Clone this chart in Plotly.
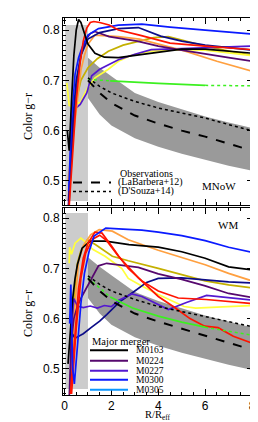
import plotly.graph_objects as go

# ---------------- data ----------------
# observational bands / fits (x in R/Reff)
obs_x = [1, 1.5, 2, 3, 4, 5, 6, 7, 8]
labarbera_top = [0.700, 0.675, 0.655, 0.630, 0.614, 0.600, 0.588, 0.574, 0.560]
dsouza_top = [0.705, 0.688, 0.675, 0.658, 0.645, 0.635, 0.625, 0.612, 0.600]
band_hi_top = [0.745, 0.725, 0.708, 0.675, 0.657, 0.642, 0.628, 0.616, 0.605]
band_lo_top = [0.665, 0.632, 0.610, 0.585, 0.568, 0.554, 0.542, 0.530, 0.520]

labarbera_bot = [0.680, 0.655, 0.635, 0.610, 0.594, 0.580, 0.567, 0.553, 0.538]
dsouza_bot = [0.685, 0.668, 0.655, 0.638, 0.624, 0.614, 0.604, 0.593, 0.584]
band_hi_bot = [0.722, 0.703, 0.686, 0.653, 0.635, 0.620, 0.606, 0.594, 0.582]
band_lo_bot = [0.641, 0.610, 0.588, 0.563, 0.546, 0.532, 0.520, 0.508, 0.498]

# inner (R < Reff) shaded region
inner_x = [0.03, 1.0]
inner_y = [0.46, 0.81]

# ---- MNoW panel (top) ----
top_black_x = [0.12, 0.2, 0.3, 0.4, 0.5, 0.6, 0.7, 0.85, 1.0, 1.3, 1.7, 2.3, 3.1, 4.0, 5.0, 6.0, 7.0, 8.0]
top_black_y = [0.60, 0.56, 0.66, 0.75, 0.80, 0.821, 0.815, 0.795, 0.772, 0.754, 0.746, 0.745, 0.750, 0.757, 0.762, 0.762, 0.758, 0.754]
top_red_x = [0.2, 0.35, 0.5, 0.65, 0.8, 0.95, 1.1, 1.25, 1.5, 1.9, 2.3, 3.2, 4.5, 6.0, 8.0]
top_red_y = [0.45, 0.55, 0.66, 0.73, 0.778, 0.804, 0.815, 0.817, 0.815, 0.810, 0.800, 0.790, 0.774, 0.768, 0.761]
top_blue_x = [0.18, 0.3, 0.45, 0.6, 0.75, 1.0, 1.45, 2.3, 3.3, 4.5, 6.0, 8.0]
top_blue_y = [0.48, 0.62, 0.712, 0.745, 0.765, 0.790, 0.803, 0.810, 0.812, 0.806, 0.800, 0.792]
top_navy_x = [0.2, 0.35, 0.5, 0.7, 1.0, 1.5, 2.3, 3.15, 4.1, 5.0, 6.0, 8.0]
top_navy_y = [0.46, 0.62, 0.70, 0.75, 0.782, 0.795, 0.803, 0.805, 0.788, 0.778, 0.770, 0.760]
top_orange_x = [0.15, 0.3, 0.5, 0.7, 0.85, 1.0, 1.3, 1.6, 2.3, 3.2, 4.0, 5.15, 6.5, 8.0]
top_orange_y = [0.50, 0.56, 0.64, 0.72, 0.75, 0.772, 0.790, 0.789, 0.787, 0.782, 0.772, 0.758, 0.738, 0.718]
top_purple_x = [0.15, 0.25, 0.4, 0.55, 0.7, 0.9, 1.1, 1.3, 1.9, 3.1, 4.0, 5.0, 6.0, 7.0, 8.0]
top_purple_y = [0.44, 0.52, 0.62, 0.70, 0.75, 0.78, 0.793, 0.797, 0.787, 0.778, 0.768, 0.760, 0.752, 0.745, 0.738]
top_violet_x = [0.17, 0.25, 0.31, 0.45, 0.67, 0.95, 1.16, 1.5, 1.87, 2.3, 3.0, 3.7, 5.0, 6.0, 8.0]
top_violet_y = [0.46, 0.56, 0.612, 0.643, 0.652, 0.675, 0.709, 0.722, 0.731, 0.741, 0.752, 0.761, 0.763, 0.765, 0.768]
top_yellow_x = [0.1, 0.15, 0.2, 0.31, 0.5, 0.67, 0.95, 1.3, 1.87, 2.3, 2.85, 3.7, 5.0, 6.0, 7.0, 8.0]
top_yellow_y = [0.695, 0.67, 0.65, 0.648, 0.655, 0.655, 0.682, 0.705, 0.722, 0.738, 0.750, 0.758, 0.761, 0.760, 0.755, 0.749]
top_olive_x = [0.25, 0.45, 0.7, 1.0, 1.4, 1.87, 2.5, 3.15, 3.8, 4.43, 5.2, 6.0, 7.0, 8.0]
top_olive_y = [0.50, 0.65, 0.70, 0.725, 0.743, 0.758, 0.770, 0.778, 0.785, 0.787, 0.777, 0.768, 0.758, 0.750]
top_green_x = [1.0, 1.5, 1.95, 3.0, 4.0, 5.0, 6.0, 7.0, 8.0]
top_green_y = [0.702, 0.700, 0.699, 0.696, 0.694, 0.692, 0.690, 0.689, 0.689]

# ---- WM panel (bottom) ----
bot_black_x = [0.15, 0.25, 0.35, 0.45, 0.55, 0.75, 1.1, 1.75, 2.75, 4.0, 5.0, 6.0, 7.0, 8.0]
bot_black_y = [0.51, 0.58, 0.64, 0.68, 0.707, 0.740, 0.754, 0.754, 0.747, 0.742, 0.733, 0.720, 0.703, 0.697]
bot_purple_x = [0.2, 0.28, 0.4, 0.55, 0.74, 1.16, 1.45, 1.8, 2.58, 3.15, 4.0, 5.0, 6.0, 7.0, 8.0]
bot_purple_y = [0.44, 0.55, 0.60, 0.625, 0.644, 0.681, 0.705, 0.710, 0.706, 0.702, 0.689, 0.678, 0.665, 0.650, 0.642]
bot_violet_x = [0.25, 0.3, 0.4, 0.55, 0.8, 1.1, 1.4, 1.7, 2.0, 2.3, 2.87, 3.3, 4.43, 5.2, 6.06, 7.0, 8.0]
bot_violet_y = [0.45, 0.58, 0.64, 0.625, 0.622, 0.625, 0.621, 0.626, 0.624, 0.636, 0.649, 0.644, 0.618, 0.632, 0.646, 0.642, 0.637]
bot_blue_x = [0.22, 0.27, 0.3, 0.35, 0.42, 0.55, 0.7, 0.85, 1.05, 1.26, 1.76, 2.5, 3.3, 4.0, 5.0, 6.0, 7.0, 8.0]
bot_blue_y = [0.59, 0.668, 0.60, 0.50, 0.47, 0.55, 0.63, 0.69, 0.734, 0.764, 0.780, 0.778, 0.776, 0.772, 0.765, 0.755, 0.742, 0.732]
bot_navy_x = [0.3, 0.33, 0.45, 0.8, 1.16, 1.5, 1.8, 2.37, 3.0, 3.5, 4.0, 5.0, 6.0, 7.0, 8.0]
bot_navy_y = [0.64, 0.57, 0.561, 0.570, 0.583, 0.595, 0.608, 0.634, 0.655, 0.672, 0.680, 0.681, 0.677, 0.673, 0.671]
bot_orange_x = [0.25, 0.4, 0.6, 0.8, 1.12, 1.48, 2.04, 2.72, 4.0, 5.0, 6.0, 7.0, 8.0]
bot_orange_y = [0.45, 0.60, 0.714, 0.745, 0.767, 0.777, 0.774, 0.757, 0.736, 0.722, 0.707, 0.690, 0.675]
bot_olive_x = [0.3, 0.41, 0.55, 0.69, 0.98, 1.33, 2.04, 2.72, 4.0, 5.0, 6.0, 7.0, 8.0]
bot_olive_y = [0.50, 0.648, 0.71, 0.734, 0.757, 0.747, 0.724, 0.715, 0.700, 0.688, 0.675, 0.667, 0.661]
bot_yellow_x = [0.2, 0.22, 0.3, 0.45, 0.7, 0.9, 1.2, 1.73, 2.44, 2.72, 3.3, 4.0, 5.1, 5.6, 6.5, 8.0]
bot_yellow_y = [0.71, 0.742, 0.728, 0.750, 0.760, 0.752, 0.738, 0.724, 0.700, 0.680, 0.665, 0.648, 0.624, 0.621, 0.623, 0.626]
bot_red1_x = [0.25, 0.45, 0.6, 0.8, 1.0, 1.3, 1.6, 2.0, 2.3, 2.72, 3.3, 4.0, 4.85, 6.04, 7.0, 8.0]
bot_red1_y = [0.45, 0.58, 0.66, 0.72, 0.75, 0.772, 0.770, 0.745, 0.725, 0.700, 0.675, 0.655, 0.641, 0.638, 0.634, 0.630]
bot_red2_x = [0.3, 0.5, 0.7, 0.9, 1.2, 1.5, 1.8, 2.3, 3.15, 4.0, 4.7, 5.35, 5.98, 6.55, 7.2, 8.0]
bot_red2_y = [0.45, 0.58, 0.68, 0.73, 0.758, 0.766, 0.755, 0.724, 0.681, 0.644, 0.622, 0.600, 0.585, 0.582, 0.565, 0.551]
bot_green_x = [1.0, 1.5, 1.95, 2.9, 4.0, 5.0, 6.0, 7.0, 8.0]
bot_green_y = [0.681, 0.660, 0.643, 0.621, 0.605, 0.593, 0.583, 0.575, 0.567]

merger_names = ["M0163", "M0224", "M0227", "M0300", "M0305"]
green_solid = (1.95, 6.0)

# ---------------- styling ----------------
C = dict(black="#000000", red="#ff1400", blue="#0a1aff", navy="#0c0c88",
         orange="#ffa040", purple="#56086e", violet="#5418d0",
         yellow="#ffff3c", olive="#c4b000", green="#3cf020", lblue="#0a96ff")
merger_colors = [C["black"], C["purple"], C["violet"], C["blue"], C["lblue"]]
LW = 1.7
SERIF = "Liberation Serif"
SANS = "Liberation Sans"

fig = go.Figure()


def add_line(x, y, color, ax, dash="solid", width=LW):
    xa, ya = ("x", "y") if ax == 1 else ("x2", "y2")
    fig.add_trace(go.Scatter(x=x, y=y, mode="lines", xaxis=xa, yaxis=ya,
                             line=dict(color=color, width=width, dash=dash),
                             showlegend=False, hoverinfo="skip"))


def add_panel(ax, band_hi, band_lo, lab, dsz, curves, gx, gy):
    xa, ya = ("x", "y") if ax == 1 else ("x2", "y2")
    # inner light grey region
    fig.add_trace(go.Scatter(
        x=[inner_x[0], inner_x[1], inner_x[1], inner_x[0], inner_x[0]],
        y=[inner_y[0], inner_y[0], inner_y[1], inner_y[1], inner_y[0]],
        mode="lines", fill="toself", fillcolor="#cccccc", line=dict(width=0),
        xaxis=xa, yaxis=ya, showlegend=False, hoverinfo="skip"))
    # observed scatter band
    fig.add_trace(go.Scatter(
        x=obs_x + obs_x[::-1], y=band_hi + band_lo[::-1], mode="lines",
        fill="toself", fillcolor="#9a9a9a", line=dict(width=0),
        xaxis=xa, yaxis=ya, showlegend=False, hoverinfo="skip"))
    for (x, y, col) in curves:
        add_line(x, y, col, ax)
    # green: dotted-solid-dotted
    solid = [(a, b) for a, b in zip(gx, gy) if green_solid[0] <= a <= green_solid[1]]
    left = [(a, b) for a, b in zip(gx, gy) if a <= green_solid[0]]
    right = [(a, b) for a, b in zip(gx, gy) if a >= green_solid[1]]
    add_line([p[0] for p in left], [p[1] for p in left], C["green"], ax, "dot", 1.5)
    add_line([p[0] for p in solid], [p[1] for p in solid], C["green"], ax)
    add_line([p[0] for p in right], [p[1] for p in right], C["green"], ax, "dot", 1.5)
    add_line(obs_x, dsz, "black", ax, "dot", 1.5)
    add_line(obs_x, lab, "black", ax, "dash", 2)


top_curves = [
    (top_olive_x, top_olive_y, C["olive"]),
    (top_yellow_x, top_yellow_y, C["yellow"]),
    (top_violet_x, top_violet_y, C["violet"]),
    (top_orange_x, top_orange_y, C["orange"]),
    (top_purple_x, top_purple_y, C["purple"]),
    (top_navy_x, top_navy_y, C["navy"]),
    (top_blue_x, top_blue_y, C["blue"]),
    (top_red_x, top_red_y, C["red"]),
    (top_black_x, top_black_y, C["black"]),
]
bot_curves = [
    (bot_olive_x, bot_olive_y, C["olive"]),
    (bot_yellow_x, bot_yellow_y, C["yellow"]),
    (bot_orange_x, bot_orange_y, C["orange"]),
    (bot_navy_x, bot_navy_y, C["navy"]),
    (bot_violet_x, bot_violet_y, C["violet"]),
    (bot_purple_x, bot_purple_y, C["purple"]),
    (bot_black_x, bot_black_y, C["black"]),
    (bot_red1_x, bot_red1_y, C["red"]),
    (bot_red2_x, bot_red2_y, C["red"]),
    (bot_blue_x, bot_blue_y, C["blue"]),
]

add_panel(1, band_hi_top, band_lo_top, labarbera_top, dsouza_top, top_curves, top_green_x, top_green_y)
add_panel(2, band_hi_bot, band_lo_bot, labarbera_bot, dsouza_bot, bot_curves, bot_green_x, bot_green_y)

axis_common = dict(showline=True, linecolor="black", linewidth=1, mirror="allticks",
                   ticks="inside", ticklen=6, tickwidth=1, tickcolor="black",
                   showgrid=False, zeroline=False,
                   tickfont=dict(family=SANS, size=12, color="black"))
xaxis_common = dict(axis_common, range=[-0.064, 8.04], tick0=0, dtick=2,
                    minor=dict(ticks="inside", ticklen=3, dtick=0.5, tick0=0,
                               tickcolor="black", showgrid=False))
yaxis_common = dict(axis_common, tick0=0, dtick=0.1,
                    minor=dict(ticks="inside", ticklen=3, dtick=0.01, tick0=0,
                               tickcolor="black", showgrid=False))

D_TOP = [0.504, 1.0]
D_BOT = [0.0, 0.496]

fig.update_layout(
    width=258, height=422,
    margin=dict(l=55, r=13, t=10, b=35),
    paper_bgcolor="white", plot_bgcolor="white",
    showlegend=False,
    xaxis=dict(xaxis_common, anchor="y", showticklabels=False),
    yaxis=dict(yaxis_common, anchor="x", domain=D_TOP, range=[0.452, 0.824]),
    xaxis2=dict(xaxis_common, anchor="y2"),
    yaxis2=dict(yaxis_common, anchor="x2", domain=D_BOT, range=[0.448, 0.820]),
)


def px2paper(px, py):
    return (px - 55) / 190.0, (387 - py) / 377.0


annots = []
shapes = []


def text(px, py, s, size=10, xanchor="left", angle=0, family=SERIF, yanchor="middle"):
    x, y = px2paper(px, py)
    annots.append(dict(x=x, y=y, xref="paper", yref="paper", text=s, showarrow=False,
                       xanchor=xanchor, yanchor=yanchor, textangle=angle,
                       font=dict(family=family, size=size, color="black")))


def seg(px0, px1, py, color, dash="solid", width=2):
    x0, y = px2paper(px0, py)
    x1, _ = px2paper(px1, py)
    shapes.append(dict(type="line", xref="paper", yref="paper", x0=x0, x1=x1, y0=y, y1=y,
                       line=dict(color=color, width=width, dash=dash)))


# axis titles
text(20, 109, "Color g−r", size=12, xanchor="center", angle=-90)
text(20, 306, "Color g−r", size=12, xanchor="center", angle=-90)
text(150, 407, "R/R<sub>eff</sub>", size=10.5, xanchor="center")

# top legend (observations)
text(110, 165, "Observations", size=10)
text(108, 174.5, "(LaBarbera+12)", size=10)
text(108, 183.5, "(D'Souza+14)", size=10)
seg(65, 103, 174.5, "black", "dash", 2)
seg(65, 103, 183.5, "black", "dot", 1.5)
text(211, 178, "MNoW", size=11, xanchor="center")
text(220, 217, "WM", size=11, xanchor="center")

# bottom legend (major mergers)
text(82, 333, "Major merger", size=10.5)
rows = [342.3, 352.7, 362.7, 371.7, 381.7]
for name, col, py in zip(merger_names, merger_colors, rows):
    seg(82, 120, py, col, "solid", 2)
    text(126, py, name, size=9.5)

fig.update_layout(annotations=annots, shapes=shapes)

fig.write_html("out.html")
